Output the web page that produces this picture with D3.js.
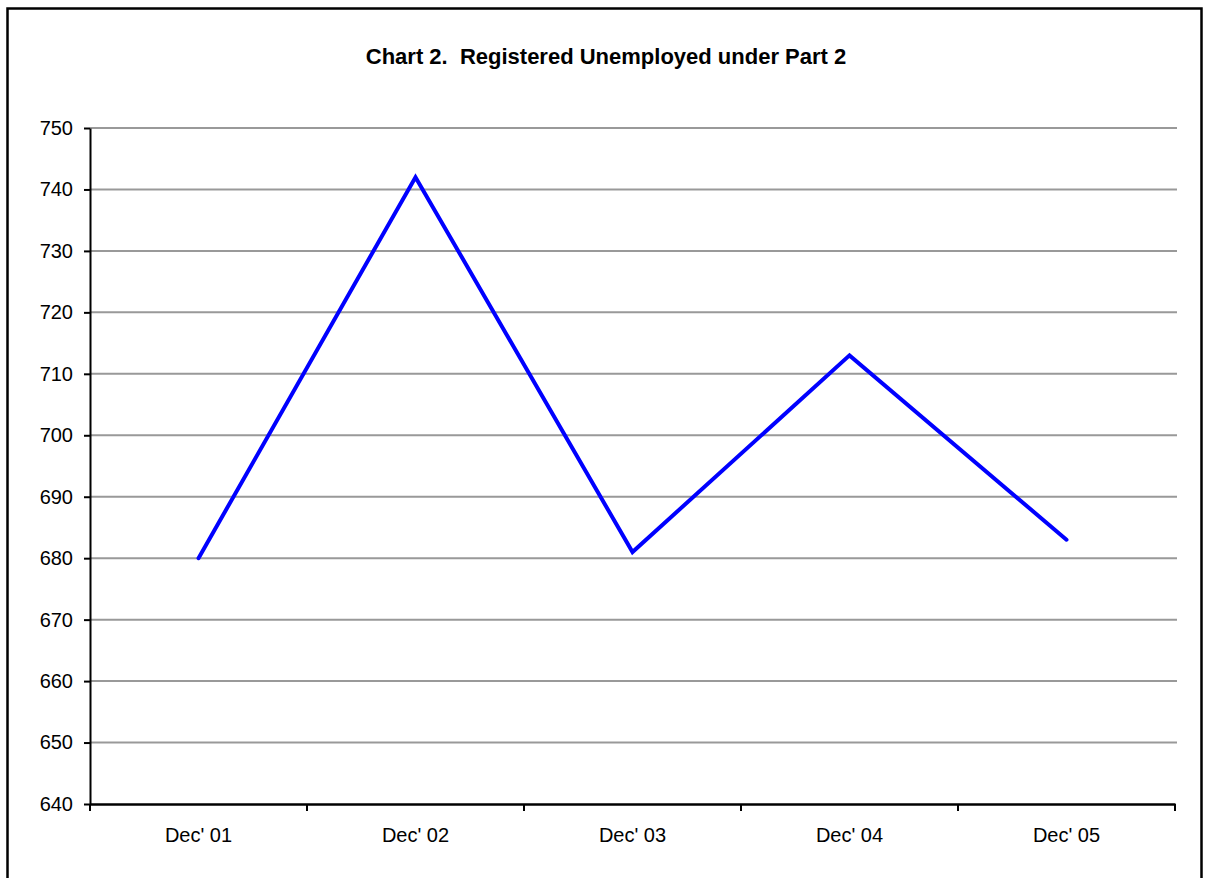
<!DOCTYPE html>
<html>
<head>
<meta charset="utf-8">
<script src="https://cdn.jsdelivr.net/npm/d3@7"></script>
<style>
  body { margin: 0; background: #fff; }
  svg { display: block; font-family: "Liberation Sans", Arial, sans-serif; }
</style>
</head>
<body>
<div id="chart"></div>
<script>
const categories = ["Dec' 01", "Dec' 02", "Dec' 03", "Dec' 04", "Dec' 05"]
const values = [680, 742, 681, 713, 683]
const yTicks = [640, 650, 660, 670, 680, 690, 700, 710, 720, 730, 740, 750]

const W = 1205, H = 878
const margin = { left: 90, right: 30, top: 128, bottom: 74 }

const svg = d3.select('#chart').append('svg')
  .attr('width', W)
  .attr('height', H)

// frame
svg.append('rect')
  .attr('x', 7.5).attr('y', 8.5)
  .attr('width', 1194).attr('height', H + 20)
  .attr('fill', 'none')
  .attr('stroke', '#000')
  .attr('stroke-width', 2.5)

svg.append('text')
  .attr('x', 606).attr('y', 64)
  .attr('text-anchor', 'middle')
  .attr('font-size', 22)
  .attr('font-weight', 'bold')
  .style('white-space', 'pre')
  .text('Chart 2.  Registered Unemployed under Part 2')

const x = d3.scaleBand().domain(categories).range([margin.left, 1175])
const y = d3.scaleLinear().domain([640, 750]).range([804, margin.top])

// gridlines
svg.append('g')
  .selectAll('line')
  .data(yTicks.slice(1))
  .enter()
  .append('line')
  .attr('x1', margin.left).attr('x2', 1177)
  .attr('y1', d => y(d)).attr('y2', d => y(d))
  .attr('stroke', '#999')
  .attr('stroke-width', 2)

// y axis
const yAxis = svg.append('g')
  .attr('transform', `translate(${margin.left},0)`)
  .call(d3.axisLeft(y).tickValues(yTicks).tickSize(6).tickSizeOuter(0).tickPadding(11))
yAxis.select('.domain').attr('stroke-width', 2)
yAxis.selectAll('.tick line').attr('stroke-width', 2)
yAxis.selectAll('text').attr('font-size', 20).attr('fill', '#000')
  .attr('font-family', '"Liberation Sans", Arial, sans-serif')

// x axis
const xAxis = svg.append('g')
  .attr('transform', 'translate(0,804)')
  .call(d3.axisBottom(x).tickSize(0).tickPadding(24))
xAxis.select('.domain').attr('stroke-width', 2.5)
xAxis.selectAll('text').attr('font-size', 20).attr('fill', '#000')
  .attr('font-family', '"Liberation Sans", Arial, sans-serif')

// band boundary ticks
const bounds = categories.map(c => x(c)).concat([x.range()[1]])
svg.append('g')
  .selectAll('line')
  .data(bounds)
  .enter()
  .append('line')
  .attr('x1', d => d).attr('x2', d => d)
  .attr('y1', 804).attr('y2', 811)
  .attr('stroke', '#000')
  .attr('stroke-width', 2)

const line = d3.line()
  .x((d, i) => x(categories[i]) + x.bandwidth() / 2)
  .y(d => y(d))

svg.append('path')
  .datum(values)
  .attr('d', line)
  .attr('fill', 'none')
  .attr('stroke', '#0000ff')
  .attr('stroke-width', 4)
  .attr('stroke-linejoin', 'miter')
  .attr('stroke-linecap', 'round')
</script>
</body>
</html>
